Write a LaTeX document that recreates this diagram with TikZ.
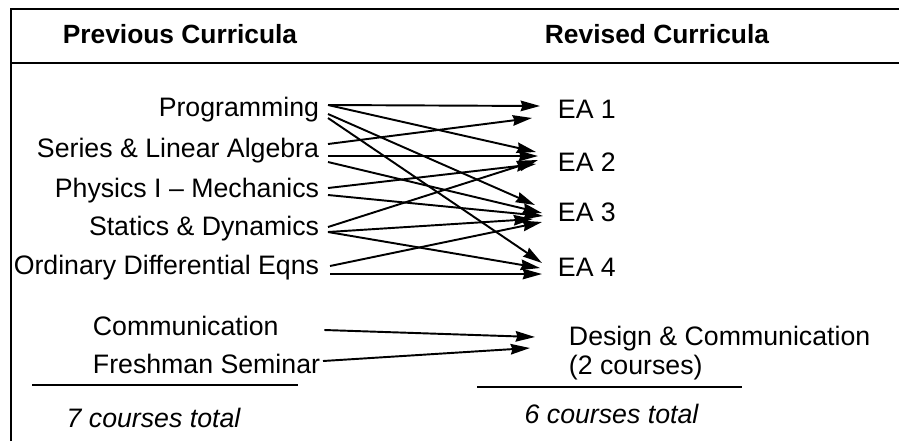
\documentclass[tikz,border=0pt]{standalone}
\usepackage{fontspec}
\setmainfont{Liberation Sans}
\usepackage{tikz}
\usetikzlibrary{arrows.meta}

\tikzset{
  txt/.style={font=\fontsize{15.2}{18}\selectfont,inner ysep=0pt,text height=10.8pt,text depth=0pt},
  src/.style={txt,anchor=east,inner xsep=0.16cm},
  lsrc/.style={txt,anchor=west,inner xsep=0pt},
  dst/.style={txt,anchor=west,inner xsep=0.36cm},
  arr/.style={-{Stealth[length=11pt,width=6pt,inset=1pt]},line width=1.1pt}
}

\begin{document}
\begin{tikzpicture}[x=0.02cm,y=-0.02cm,line width=1.1pt]
\useasboundingbox (0,0) rectangle (899,441);
% frame
\draw (11,441) -- (11,9) -- (899,9);
\draw (11,63) -- (899,63);
\node[txt,font=\fontsize{15}{18}\selectfont\bfseries] (Hp) at (180,34) {Previous Curricula};
\node[txt,font=\fontsize{15}{18}\selectfont\bfseries] (Hr) at (657,34) {Revised Curricula};
% old courses
\node[src] (Prog) at (328,107.5) {Programming};
\node[src] (Ser) at (328,148.5) {Series \& Linear Algebra};
\node[src] (Phy) at (328,188.5) {Physics I \textendash\ Mechanics};
\node[src] (Stat) at (328,226.5) {Statics \& Dynamics};
\node[src] (ODE) at (328,265) {Ordinary Differential Eqns};
\node[lsrc] (Com) at (92,326) {Communication};
\node[lsrc] (Fre) at (92,364) {Freshman Seminar};
% new courses
\node[dst] (EA1) at (539,109.5) {EA 1};
\node[dst] (EA2) at (539,162) {EA 2};
\node[dst] (EA3) at (539,212) {EA 3};
\node[dst] (EA4) at (539,267) {EA 4};
\node[dst] (Des) at (550,336) {Design \& Communication};
\node[dst] (Des2) at (550,365) {(2 courses)};
% totals
\draw (32,385) -- (298,385);
\draw (477,387) -- (742,387);
\node[txt,font=\fontsize{15.2}{18}\selectfont\itshape] (Tp) at (153.5,417.5) {7 courses total};
\node[txt,font=\fontsize{15.2}{18}\selectfont\itshape] (Tr) at (611.5,414) {6 courses total};
\path[arr]
([shift={(0,-2.5)}]Prog.east) edge ([shift={(1,-3.5)}]EA1.west)
([shift={(0,-2.5)}]Prog.east) edge ([shift={(-3,-10)}]EA2.west)
([shift={(0,6.5)}]Prog.east) edge ([shift={(-4,-7)}]EA3.west)
([shift={(0,10.5)}]Prog.east) edge ([shift={(3,-4)}]EA4.west)
([shift={(0,-4.5)}]Ser.east) edge ([shift={(-7,8.5)}]EA1.west)
([shift={(0,7.5)}]Ser.east) edge ([shift={(-1,-6)}]EA2.west)
([shift={(0,13.5)}]Ser.east) edge ([shift={(3,1)}]EA3.west)
([shift={(0,-0.5)}]Phy.east) edge ([shift={(-3,2)}]EA2.west)
([shift={(0,6.5)}]Phy.east) edge ([shift={(4,4)}]EA3.west)
([shift={(0,0.5)}]Stat.east) edge ([shift={(-1,-2)}]EA2.west)
([shift={(0,5.5)}]Stat.east) edge ([shift={(-6,7)}]EA3.west)
([shift={(0,5.5)}]Stat.east) edge ([shift={(1,1)}]EA4.west)
([shift={(2,1)}]ODE.east) edge ([shift={(3,10)}]EA3.west)
([shift={(2,9)}]ODE.east) edge ([shift={(3,7)}]EA4.west)
([shift={(45,4)}]Com.east) edge ([shift={(-15,1)}]Des.west)
([shift={(2,-3)}]Fre.east) edge ([shift={(-20,12)}]Des.west);
\end{tikzpicture}
\end{document}
